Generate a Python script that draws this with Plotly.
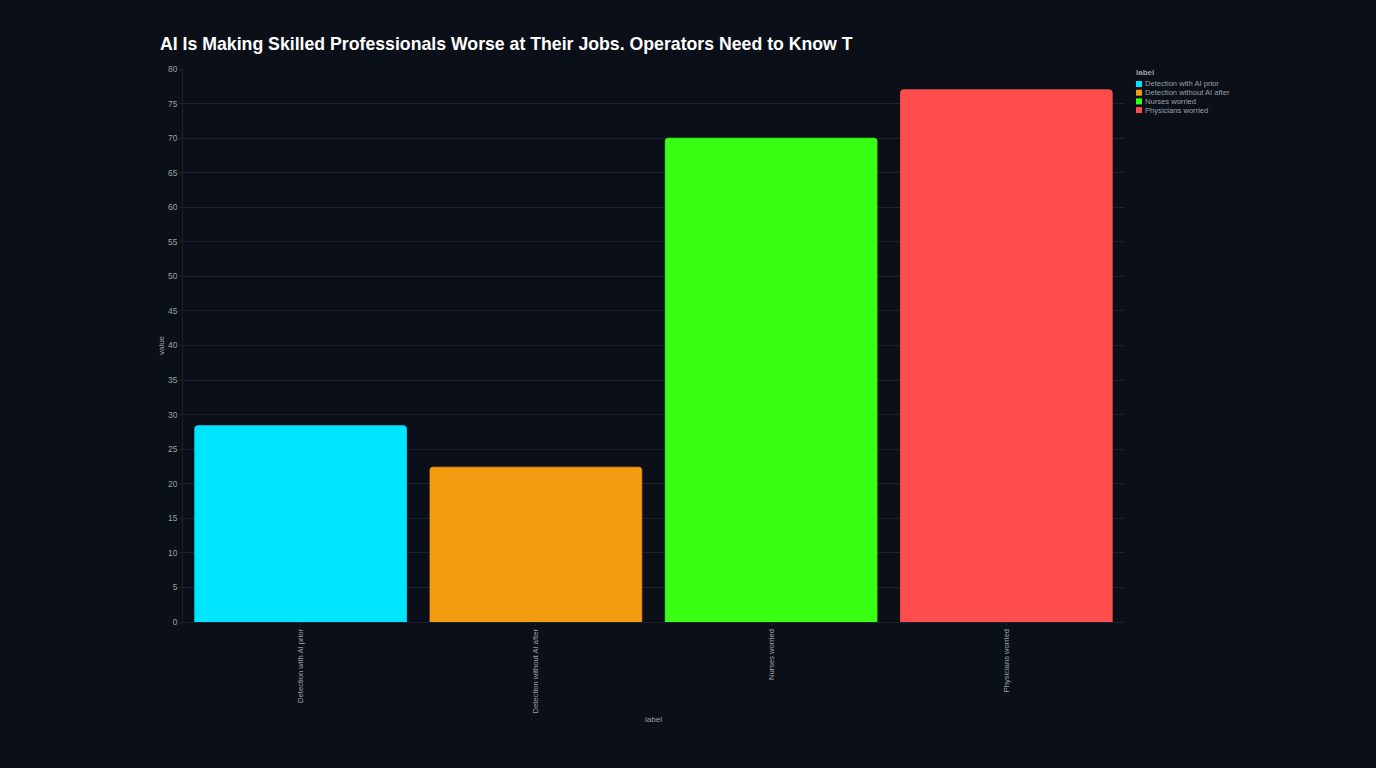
import plotly.graph_objects as go

labels = ["Detection with AI prior", "Detection without AI after", "Nurses worried", "Physicians worried"]
values = [28.4, 22.4, 70.0, 77.0]
colors = ["#00e5ff", "#f39c12", "#39ff14", "#ff4d4d"]

# plot-area geometry (pixels) used only for legend placement
L, R, T, B = 183, 1124, 69, 622
W, H = R - L, B - T
def px_x(p):
    return (p - L) / W
def px_y(p):
    return (B - p) / H

fig = go.Figure()
for lab, val, col in zip(labels, values, colors):
    fig.add_trace(go.Bar(
        x=[lab], y=[val], name=lab, showlegend=False,
        marker=dict(color=col, line=dict(width=0.8, color=col)),
    ))

bg = "#0b0f17"
grid = "#1b2130"
tick = "#9aa0ab"
fs = 7.6

# compact legend (Vega-style) drawn as shapes + annotations
annotations = [dict(text="<b>label</b>", xref="paper", yref="paper", x=px_x(1133.5), y=px_y(72),
                    xanchor="left", yanchor="middle", showarrow=False,
                    font=dict(size=8, color=tick))]
shapes = []
for i, (lab, col) in enumerate(zip(labels, colors)):
    cy = 84 + i * 8.7
    shapes.append(dict(type="rect", xref="paper", yref="paper",
                       x0=px_x(1136), x1=px_x(1142), y0=px_y(cy - 3), y1=px_y(cy + 3),
                       fillcolor=col, line=dict(width=0)))
    annotations.append(dict(text=lab, xref="paper", yref="paper", x=px_x(1143), y=px_y(cy),
                            xanchor="left", yanchor="middle", showarrow=False,
                            font=dict(size=fs, color=tick)))

fig.update_layout(
    width=1376, height=768,
    paper_bgcolor=bg, plot_bgcolor=bg,
    barmode="relative", bargap=0.1, barcornerradius=3,
    font=dict(family="Liberation Sans, Arial, sans-serif", color=tick, size=fs),
    title=dict(text="<b>AI Is Making Skilled Professionals Worse at Their Jobs. Operators Need to Know T</b>",
               x=160 / 1376, xanchor="left", y=1 - 44 / 768, yanchor="middle",
               font=dict(size=17.7, color="#ffffff")),
    margin=dict(l=L, r=1376 - R, t=T, b=768 - B),
    showlegend=False,
    annotations=annotations,
    shapes=shapes,
    xaxis=dict(title=dict(text="label", font=dict(size=8, color=tick), standoff=3),
               tickangle=-90, showgrid=False, linecolor=grid, showline=True, automargin=False,
               ticks="outside", ticklen=3, tickcolor=grid, tickfont=dict(size=fs, color=tick),
               categoryorder="array", categoryarray=labels),
    yaxis=dict(title=dict(text="value", font=dict(size=8, color=tick), standoff=2),
               range=[0, 80], dtick=5, gridcolor=grid, zeroline=False, automargin=False,
               showline=True, linecolor=grid, ticks="outside", ticklen=3, tickcolor=grid,
               tickfont=dict(size=8.4, color=tick)),
)

fig.write_html("out.html")
